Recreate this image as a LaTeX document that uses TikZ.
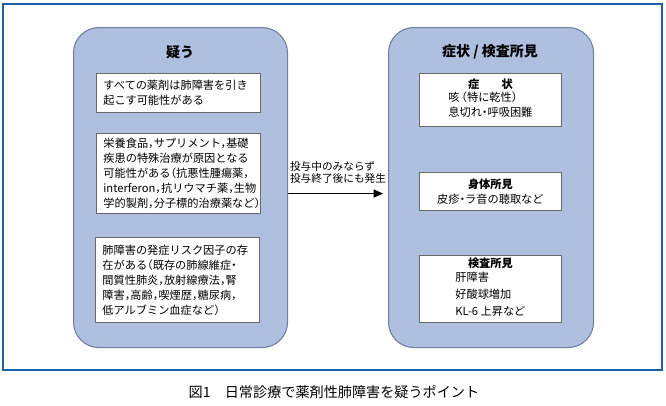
\documentclass[tikz,border=0pt]{standalone}
\usepackage{fontspec}
\setmainfont{Noto Sans CJK JP}[RawFeature=+halt]
\usetikzlibrary{positioning,arrows.meta}
\definecolor{frameblue}{RGB}{28,98,168}
\definecolor{panelfill}{RGB}{174,191,223}
\definecolor{panelline}{RGB}{112,126,158}
\definecolor{boxline}{RGB}{105,105,105}

\begin{document}
\begin{tikzpicture}[
  x=0.75pt,y=-0.75pt,
  panel/.style={draw=panelline,fill=panelfill,rounded corners=19pt,line width=0.8pt,
                anchor=north west,minimum width=160.5pt,minimum height=240pt},
  title/.style={font=\fontsize{10.5pt}{12pt}\selectfont\bfseries},
  box/.style={draw=boxline,fill=white,anchor=north west,align=left,line width=0.6pt,
              text width=112.5pt,inner xsep=5.25pt,inner ysep=0pt,
              font=\fontsize{8.4pt}{11.25pt}\selectfont},
  sbox/.style={draw=boxline,fill=white,anchor=north west,align=center,line width=0.6pt,
               minimum width=106.5pt,inner sep=0pt,
               font=\fontsize{8.4pt}{11.25pt}\selectfont},
  flow/.style={-{Triangle[length=7pt,width=6pt]},line width=1pt},
  note/.style={font=\fontsize{8pt}{9.4pt}\selectfont,align=left,inner sep=0pt}
]
\useasboundingbox (0,0) rectangle (666,405);
\draw[frameblue,line width=1.1pt] (3,4) rectangle (662,370);

% left side
\node[panel] (doubt) at (73,27) {};
\node[title] (doubttitle) at (180,52) {疑う};
\node[box,minimum height=29.25pt] (allDrugs) at (96,73)
  {すべての薬剤は肺障害を引き\\起こす可能性がある};
\node[box,minimum height=60pt] (causes) at (96,133)
  {栄養食品，サプリメント，基礎\\疾患の特殊治療が原因となる\\可能性がある（抗悪性腫瘍薬，\\interferon，抗リウマチ薬，生物\\学的製剤，分子標的治療薬など）};
\node[box,minimum height=63.75pt] (risks) at (95,237)
  {肺障害の発症リスク因子の存\\在がある（既存の肺線維症・\\間質性肺炎，放射線療法，腎\\障害，高齢，喫煙歴，糖尿病，\\低アルブミン血症など）};

% right side
\node[panel,minimum width=153.75pt] (finding) at (388,27) {};
\node[title] (findingtitle) at (490,52) {症状 / 検査所見};
\node[sbox,minimum height=39.75pt] (symptom) at (419,73)
  {\textbf{症　　状}\\\begin{tabular}{@{}l@{}}咳\,（特に乾性）\\息切れ・呼吸困難\end{tabular}};
\node[sbox,minimum height=28.5pt] (physical) at (419,172)
  {\textbf{身体所見}\\皮疹・ラ音の聴取など};
\node[sbox,minimum height=50.25pt] (lab) at (419,255)
  {\textbf{検査所見}\\[1pt]\begin{tabular}{@{}l@{}}肝障害\\[1.5pt]好酸球増加\\[1.5pt]KL-6 上昇など\end{tabular}};

\draw[flow,shorten >=3.75pt] ([yshift=-4.5pt]doubt.east) -- node[note,above=7pt]
  {投与中のみならず\\投与終了後にも発生} ([yshift=-4.5pt]finding.west);

\node[font=\fontsize{10.6pt}{12pt}\selectfont] (caption) at (334,392)
  {図1　日常診療で薬剤性肺障害を疑うポイント};
\end{tikzpicture}
\end{document}
